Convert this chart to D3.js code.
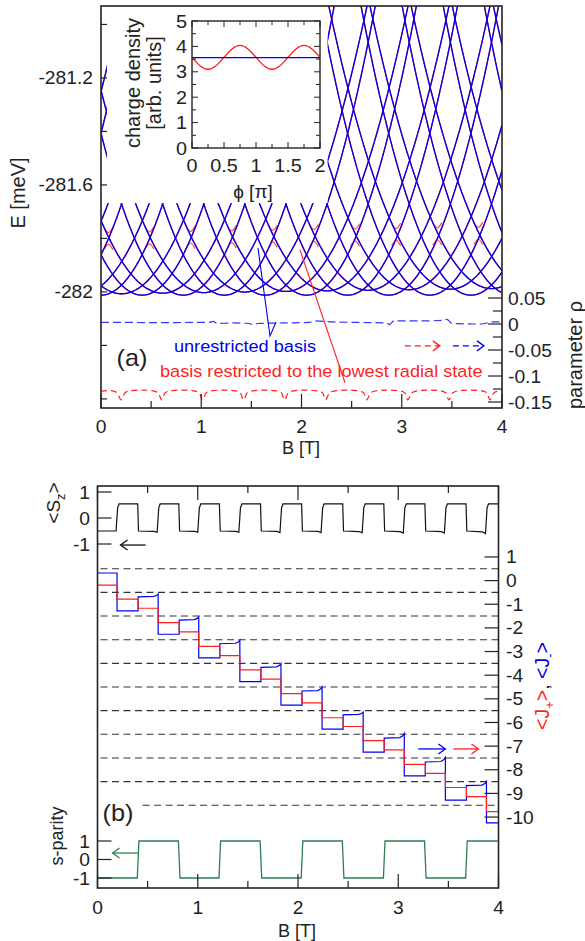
<!DOCTYPE html>
<html><head><meta charset="utf-8">
<script src="https://cdn.jsdelivr.net/npm/d3@7"></script>
<style>
body{margin:0;background:#fff}
text{font-family:"Liberation Sans",Arial,Helvetica,sans-serif;fill:#222}
</style></head>
<body><svg id="c" width="585" height="941"></svg>
<script>
// ---------------- DATA ----------------
// Panel (a): energy spectrum — two families of parabolic levels (minimum position B in T)
const specCentersA = [-1.23,-0.82,-0.41,0,0.41,0.82,1.23,1.64,2.05,2.46,2.87,3.28,3.69,4.10,4.51,4.92,5.33];
const specCentersB = [-1.435,-1.025,-0.615,-0.205,0.205,0.615,1.025,1.435,1.845,2.255,2.665,3.075,3.485,3.895,4.305,4.715,5.125,5.535];
const specMinA = [-282.012,-282.012]; // lowest energy at B=0 and B=4 (meV)
const specMinB = [-282.008,-281.987];
const specCurvA = 0.90, specCurvB = 0.72;   // meV / T^2
// red (restricted basis) anticrossings: B (T), energy at crossing (meV)
const antiB = [0.074,0.484,0.894,1.304,1.714,2.124,2.534,2.944,3.354,3.764];
const antiE = [-281.800,-281.798,-281.796,-281.794,-281.792,-281.789,-281.787,-281.785,-281.783,-281.781];
// parameter rho (right axis)
const rhoBlue = [[0,0.003],[0.3,0.003],[0.6,0.0025],[0.9,0.003],[1.08,0.003],[1.12,0.005],[1.16,0.001],[1.3,0.002],[1.48,0.001],[1.52,-0.002],[1.56,0.001],[1.8,0.002],[2.08,0.003],[2.13,0.006],[2.3,0.004],[2.6,0.003],[2.85,0.002],[2.88,-0.001],[2.92,0.006],[3.2,0.006],[3.42,0.007],[3.45,0.009],[3.5,0.001],[3.8,0.0],[3.9,0.004],[4.0,0.004]];
const rhoRed = [[0,-0.129],[0.1,-0.128],[0.16,-0.132],[0.2,-0.146],[0.24,-0.132],[0.3,-0.128],[0.4,-0.127],[0.5,-0.128],[0.57,-0.132],[0.605,-0.146],[0.64,-0.132],[0.71,-0.128],[0.81,-0.127],[0.91,-0.128],[0.98,-0.132],[1.01,-0.146],[1.05,-0.132],[1.12,-0.128],[1.22,-0.127],[1.32,-0.128],[1.39,-0.132],[1.42,-0.146],[1.46,-0.132],[1.53,-0.128],[1.63,-0.127],[1.73,-0.128],[1.8,-0.132],[1.83,-0.146],[1.87,-0.132],[1.94,-0.128],[2.04,-0.127],[2.14,-0.128],[2.21,-0.132],[2.24,-0.146],[2.28,-0.132],[2.35,-0.128],[2.45,-0.127],[2.55,-0.128],[2.62,-0.132],[2.65,-0.146],[2.69,-0.132],[2.76,-0.128],[2.86,-0.127],[2.96,-0.128],[3.03,-0.132],[3.06,-0.146],[3.1,-0.132],[3.17,-0.128],[3.27,-0.127],[3.37,-0.128],[3.44,-0.132],[3.47,-0.146],[3.51,-0.132],[3.58,-0.128],[3.68,-0.127],[3.78,-0.128],[3.85,-0.132],[3.88,-0.146],[3.92,-0.132],[4.0,-0.128]];
// inset: charge density vs phi
const insetPhi = [0,0.125,0.25,0.375,0.5,0.625,0.75,0.875,1,1.125,1.25,1.375,1.5,1.625,1.75,1.875,2];
const insetRed = [3.57,3.24,3.1,3.24,3.57,3.9,4.04,3.9,3.57,3.24,3.1,3.24,3.57,3.9,4.04,3.9,3.57];
const insetBlue = [3.56,3.56,3.56,3.56,3.56,3.56,3.56,3.56,3.56,3.56,3.56,3.56,3.56,3.56,3.56,3.56,3.56];
// Panel (b)
const stepBounds = [0,0.195,0.405,0.605,0.815,1.01,1.22,1.42,1.63,1.83,2.04,2.24,2.45,2.65,2.86,3.06,3.27,3.47,3.68,3.88,4.0];
const jPlus  = [-0.19,-0.78,-1.17,-1.78,-2.17,-2.78,-3.17,-3.78,-4.17,-4.78,-5.17,-5.8,-6.17,-6.77,-7.16,-7.77,-8.15,-8.75,-9.14,-9.77];
const jMinus = [0.32,-1.28,-0.69,-2.27,-1.67,-3.27,-2.67,-4.27,-3.67,-5.27,-4.67,-6.28,-5.68,-7.25,-6.66,-8.26,-7.67,-9.28,-8.67,-10.25];
const jMinusLift = [0,0,0.12,0,0.14,0,0.15,0,0.16,0,0.17,0,0.12,0,0.2,0,0.2,0,0.18,0];
const szVals = [-0.5,0.54,-0.5,0.54,-0.5,0.54,-0.5,0.54,-0.5,0.54,-0.5,0.54,-0.5,0.54,-0.5,0.54,-0.5,0.54,-0.5,0.54];
const szDroop = [0,0,0.05,0,0.05,0,0.05,0,0.06,0,0.06,0,0.07,0,0.08,0,0.08,0,0.1,0];
const parityBounds = [0,0.405,0.815,1.22,1.63,2.04,2.45,2.86,3.27,3.68,4.0];
const parityVals = [-1,1,-1,1,-1,1,-1,1,-1,1];
const jGrid = [0.5,-0.5,-1.5,-2.5,-3.5,-4.5,-5.5,-6.5,-7.5,-8.5,-9.5];
const jTicks = [1,0,-1,-2,-3,-4,-5,-6,-7,-8,-9,-10];
const eTicks = [-281.0,-281.2,-281.4,-281.6,-281.8,-282.0,-282.2,-282.4];
const eLabels = [-281.2,-281.6,-282];
const rhoTicks = [0.05,0.025,0,-0.025,-0.05,-0.075,-0.1,-0.125,-0.15];
const rhoLabels = [0.05,0,-0.05,-0.1,-0.15];
const bTicks = [0,0.5,1,1.5,2,2.5,3,3.5,4];
const bLabels = [0,1,2,3,4];

// ---------------- LAYOUT ----------------
const svg = d3.select("#c");
const SX = 1.1;
const xa = d3.scaleLinear([0,4],[101,502]);
const ya = d3.scaleLinear([-282.434,-280.931],[408,6]);
const yr = d3.scaleLinear([-0.1615,0.6115],[408,6]);
const xb = d3.scaleLinear([0,4],[97.5,498.5]);
const yJ = d3.scaleLinear([-13,4],[888,486]);
const yS = d3.scaleLinear([-1,1],[544,492]);
const yP = d3.scaleLinear([-1,1],[878,841]);
const xi = d3.scaleLinear([0,2],[192,320]);
const yi = d3.scaleLinear([0,5],[148,21]);
const AX = "#222", BLUE="#0000f0", RED="#ff1f1f";

function txt(g,x,y,s,o={}){
  const sx = o.sx===undefined?SX:o.sx;
  const t=g.append("text").attr("transform",`translate(${x},${y}) scale(${sx},1) rotate(${o.rot||0})`)
    .attr("font-size",o.size||17.5).attr("text-anchor",o.anchor||"middle");
  if(o.fill) t.style("fill",o.fill);
  if(typeof s==="string") t.text(s); else s(t);
  return t;
}
function tick(x1,y1,x2,y2,w){svg.append("line").attr("x1",x1).attr("y1",y1).attr("x2",x2).attr("y2",y2).attr("stroke",AX).attr("stroke-width",w||1.2);}

const defs = svg.append("defs");
defs.append("clipPath").attr("id","clipA").append("rect").attr("x",xa(0)).attr("y",ya.range()[1]).attr("width",xa(4)-xa(0)).attr("height",ya.range()[0]-ya.range()[1]);
defs.append("clipPath").attr("id","clipI").append("rect").attr("x",xi(0)).attr("y",yi(5)).attr("width",xi(2)-xi(0)).attr("height",yi(0)-yi(5));

// ---------------- PANEL (a) ----------------
const gA = svg.append("g").attr("clip-path","url(#clipA)");
const Etop = ya.domain()[1];
function levelPts(b0,mins,curv){
  const e0 = mins[0] + (mins[1]-mins[0])*Math.min(Math.max(b0,0),4)/4;
  const pts=[];
  for(let i=0;i<=800;i++){const B=i/200;const E=e0+curv*(B-b0)*(B-b0); if(E<Etop+0.06) pts.push([B,E]);}
  return pts;
}
const lineA = d3.line().x(d=>xa(d[0])).y(d=>ya(d[1]));
const levels = specCentersA.map(c=>levelPts(c,specMinA,specCurvA)).concat(specCentersB.map(c=>levelPts(c,specMinB,specCurvB))).filter(p=>p.length>1);
levels.forEach(p=>gA.append("path").attr("d",lineA(p)).attr("fill","none").attr("stroke",RED).attr("stroke-width",1.3));
antiB.forEach((b,i)=>{
  const e=antiE[i];
  const up=[[b-0.045,e+0.042],[b,e+0.022],[b+0.045,e+0.042]];
  const lo=[[b-0.045,e-0.042],[b,e-0.022],[b+0.045,e-0.042]];
  [up,lo].forEach(p=>gA.append("path").attr("d",d3.line().x(d=>xa(d[0])).y(d=>ya(d[1])).curve(d3.curveNatural)(p)).attr("fill","none").attr("stroke","#ff4545").attr("stroke-width",1.2));
});
levels.forEach(p=>gA.append("path").attr("d",lineA(p)).attr("fill","none").attr("stroke",BLUE).attr("stroke-width",1.3));

const lineR = d3.line().x(d=>xa(d[0])).y(d=>yr(d[1])).curve(d3.curveMonotoneX);
gA.append("path").attr("d",lineR(rhoBlue)).attr("fill","none").attr("stroke","#3535ff").attr("stroke-width",1.2).attr("stroke-dasharray","8,4");
gA.append("path").attr("d",lineR(rhoRed)).attr("fill","none").attr("stroke",RED).attr("stroke-width",1.2).attr("stroke-dasharray","6,4");

// white backing of the inset
svg.append("rect").attr("x",xa(0.06)).attr("y",ya.range()[1]).attr("width",xa(2.26)-xa(0.06)).attr("height",ya(-281.668)-ya.range()[1]).attr("fill","#fff");

svg.append("rect").attr("x",xa(0)).attr("y",ya.range()[1]).attr("width",xa(4)-xa(0)).attr("height",ya.range()[0]-ya.range()[1]).attr("fill","none").attr("stroke",AX).attr("stroke-width",1.6);
eTicks.forEach(e=>tick(xa(0),ya(e),xa(0)+6,ya(e)));
eLabels.forEach(e=>txt(svg,93,ya(e)+6.5,String(e),{anchor:"end"}));
bTicks.forEach(b=>tick(xa(b),ya.range()[0],xa(b),ya.range()[0]-(b%1===0?14:7)));
bLabels.forEach(b=>txt(svg,xa(b),433,String(b)));
rhoTicks.forEach(r=>{const maj=Math.abs(Math.round(r*40))%2===0; tick(xa(4),yr(r),xa(4)-(maj?14:9),yr(r));});
rhoLabels.forEach(r=>txt(svg,508,yr(r)+6.5,String(r),{anchor:"start"}));
txt(svg,301,454,"B [T]",{size:18,sx:1});
txt(svg,25,193,"E [meV]",{rot:-90,size:20,sx:1});
txt(svg,582,355,"parameter ρ",{rot:-90,size:20,sx:1});
txt(svg,132,366,"(a)",{size:23});
txt(svg,245,352,"unrestricted basis",{size:16.5,fill:BLUE});
txt(svg,160,377,"basis restricted to the lowest radial state",{size:16.5,fill:RED,anchor:"start"});
const ptr=(pts,col)=>svg.append("path").attr("d",d3.line()(pts)).attr("fill","none").attr("stroke",col).attr("stroke-width",1.1);
ptr([[xa(1.566),ya(-281.836)],[xa(1.686),yr(-0.023)],[xa(1.746),yr(0.004)]],BLUE);
ptr([[xa(1.985),ya(-281.843)],[xa(2.434),yr(-0.113)]],RED);
function arrow(x1,x2,y,col,dash){
  svg.append("line").attr("x1",x1).attr("x2",x2).attr("y1",y).attr("y2",y).attr("stroke",col).attr("stroke-width",1.3).attr("stroke-dasharray",dash||null);
  const d=x2>x1?-1:1;
  svg.append("path").attr("d",`M${x2+d*7},${y-5}L${x2},${y}L${x2+d*7},${y+5}`).attr("fill","none").attr("stroke",col).attr("stroke-width",1.3);
}
arrow(xa(3.03),xa(3.38),yr(-0.042),RED,"6,4");
arrow(xa(3.51),xa(3.82),yr(-0.042),BLUE,"6,4");

// ---------------- INSET ----------------
svg.append("rect").attr("x",xi(0)).attr("y",yi(5)).attr("width",xi(2)-xi(0)).attr("height",yi(0)-yi(5)).attr("fill","#fff").attr("stroke",AX).attr("stroke-width",1.4);
const gI = svg.append("g").attr("clip-path","url(#clipI)");
const lineI = d3.line().x((d,i)=>xi(insetPhi[i])).y(d=>yi(d)).curve(d3.curveNatural);
gI.append("path").attr("d",lineI(insetRed)).attr("fill","none").attr("stroke",RED).attr("stroke-width",1.3);
gI.append("path").attr("d",lineI(insetBlue)).attr("fill","none").attr("stroke",BLUE).attr("stroke-width",1.3);
for(let v=0;v<=5.001;v+=0.5){const L=(Math.abs(v%1)<1e-6)?6:4; tick(xi(0),yi(v),xi(0)+L,yi(v),1); tick(xi(2),yi(v),xi(2)-L,yi(v),1);}
for(let p=0;p<=2.001;p+=0.25){const L=(Math.abs((p*2)%1)<1e-6)?6:4; tick(xi(p),yi(0),xi(p),yi(0)-L,1); tick(xi(p),yi(5),xi(p),yi(5)+L,1);}
[0,1,2,3,4,5].forEach(v=>txt(svg,187,yi(v)+6.5,String(v),{anchor:"end",size:18}));
[0,0.5,1,1.5,2].forEach(p=>txt(svg,xi(p),172,String(p),{size:18}));
txt(svg,253,198,"ϕ [π]",{size:19,sx:1});
txt(svg,140,83,"charge density",{rot:-90,size:20,sx:1});
txt(svg,161,83,"[arb. units]",{rot:-90,size:20,sx:1});

// ---------------- PANEL (b) ----------------
const gB = svg.append("g");
jGrid.forEach(j=>gB.append("line").attr("x1",xb(j===-9.5?0.45:0.03)).attr("x2",xb(4)).attr("y1",yJ(j)).attr("y2",yJ(j)).attr("stroke","#333").attr("stroke-width",1.1).attr("stroke-dasharray","7,4.5"));
function stepPts(vals,lift){
  const pts=[];
  vals.forEach((v,i)=>{
    const b0=stepBounds[i], b1=stepBounds[i+1];
    pts.push([b0,v]);
    const l=lift?lift[i]:0;
    if(l){pts.push([b1-0.045,v+0.02]);pts.push([b1-0.015,v+l*0.5]);pts.push([b1,v+l]);}
    else pts.push([b1,v]);
  });
  return pts;
}
const lineJ = d3.line().x(d=>xb(d[0])).y(d=>yJ(d[1]));
gB.append("path").attr("d",lineJ(stepPts(jMinus,jMinusLift))).attr("fill","none").attr("stroke",BLUE).attr("stroke-width",1.2);
gB.append("path").attr("d",lineJ(stepPts(jPlus))).attr("fill","none").attr("stroke",RED).attr("stroke-width",1.2);
const szPts=[];
szVals.forEach((v,i)=>{const b0=stepBounds[i],b1=stepBounds[i+1];
  if(v>0){szPts.push([b0+0.006,v-0.15]);szPts.push([b0+0.02,v]);szPts.push([b1-0.004,v]);}
  else {szPts.push([b0+0.004,v]);szPts.push([b1-0.04,v-szDroop[i]*0.3]);szPts.push([b1-0.01,v-szDroop[i]]);}
});
gB.append("path").attr("d",d3.line().x(d=>xb(d[0])).y(d=>yS(d[1]))(szPts)).attr("fill","none").attr("stroke","#111").attr("stroke-width",1.2);
const spPts=[];
parityVals.forEach((v,i)=>{spPts.push([parityBounds[i]+(i?0.008:0),v]);spPts.push([parityBounds[i+1]-0.008,v]);});
gB.append("path").attr("d",d3.line().x(d=>xb(d[0])).y(d=>yP(d[1]))(spPts)).attr("fill","none").attr("stroke","#2e7d50").attr("stroke-width",1.3);

svg.append("rect").attr("x",xb(0)).attr("y",yJ(4)).attr("width",xb(4)-xb(0)).attr("height",yJ(-13)-yJ(4)).attr("fill","none").attr("stroke",AX).attr("stroke-width",1.6);
bTicks.forEach(b=>{const L=b%1===0?14:7; tick(xb(b),yJ(-13),xb(b),yJ(-13)-L); tick(xb(b),yJ(4),xb(b),yJ(4)+L);});
bLabels.forEach(b=>txt(svg,xb(b),914,String(b)));
txt(svg,297,937,"B [T]",{size:18,sx:1});
jTicks.forEach(j=>{tick(xb(4),yJ(j),xb(4)-14,yJ(j)); txt(svg,506,yJ(j)+6.5,String(j),{anchor:"start"});});
[1,0,-1].forEach(s=>{tick(xb(0),yS(s),xb(0)+14,yS(s)); txt(svg,90,yS(s)+6.5,String(s),{anchor:"end"});});
[1,0,-1].forEach(s=>{tick(xb(0),yP(s),xb(0)+14,yP(s)); txt(svg,90,yP(s)+6.5,String(s),{anchor:"end"});});
txt(svg,60,503,t=>{t.append("tspan").text("<S");t.append("tspan").attr("font-size",13).attr("dy",5).text("z");t.append("tspan").attr("dy",-5).text(">");},{rot:-90,size:19,sx:1});
txt(svg,63,836,"s-parity",{rot:-90,size:18,sx:1});
txt(svg,549,686,t=>{
  t.append("tspan").style("fill",RED).text("<J");t.append("tspan").style("fill",RED).attr("font-size",13).attr("dy",5).text("+");
  t.append("tspan").style("fill",RED).attr("dy",-5).text(">");t.append("tspan").text(", ");
  t.append("tspan").style("fill",BLUE).text("<J");t.append("tspan").style("fill",BLUE).attr("font-size",13).attr("dy",5).text("-");
  t.append("tspan").style("fill",BLUE).attr("dy",-5).text(">");
},{rot:-90,size:19.5,sx:1});
txt(svg,118,821,"(b)",{size:23});
arrow(xb(0.48),xb(0.23),yS(-1.04),"#111");
arrow(xb(0.4),xb(0.15),yP(0.35),"#2e7d50");
arrow(xb(3.2),xb(3.47),yJ(-7.12),BLUE);
arrow(xb(3.55),xb(3.8),yJ(-7.12),RED);
</script></body></html>
